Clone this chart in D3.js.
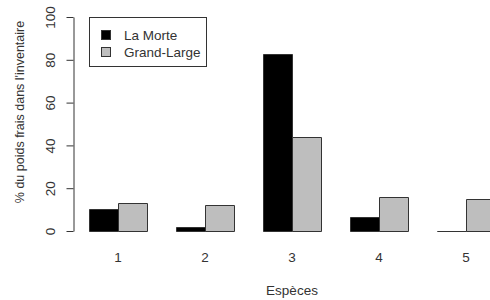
<!DOCTYPE html>
<html>
<head>
<meta charset="utf-8">
<script src="https://cdn.jsdelivr.net/npm/d3@7"></script>
<style>
  body { margin: 0; background: #fff; }
  svg { display: block; }
  text { font-family: "Liberation Sans", Arial, sans-serif; fill: #333; }
</style>
</head>
<body>
<svg width="490" height="300"></svg>
<script>
var especes = ["1", "2", "3", "4", "5"];
var series = ["La Morte", "Grand-Large"];
var laMorte = [10.3, 1.7, 82.7, 6.4, 0];
var grandLarge = [13.2, 12.3, 44.1, 15.9, 14.8];
var yTicks = [0, 20, 40, 60, 80, 100];
var colors = ["#000000", "#bebebe"];

var svg = d3.select("svg");

// R style barplot: bars of width 1, one empty unit between groups
var x = d3.scaleLinear().domain([0, 15]).range([60, 495]);
var y = d3.scaleLinear().domain([0, 100]).range([231, 17]);

var values = [laMorte, grandLarge];

var bars = [];
especes.forEach(function(e, g) {
    values.forEach(function(v, s) {
        bars.push({ g: g, s: s, value: v[g] });
    });
});

// drawn as paths so that a zero bar still shows its outline
svg.append("g")
    .selectAll("path")
    .data(bars)
    .enter()
    .append("path")
        .attr("d", function(d) {
            var x0 = Math.round(x(1 + d.g * 3 + d.s)) + 0.5;
            var x1 = Math.round(x(2 + d.g * 3 + d.s)) + 0.5;
            var y0 = Math.round(y(0)) + 0.5;
            var y1 = Math.round(y(d.value)) + 0.5;
            return "M" + x0 + "," + y0 + "V" + y1 + "H" + x1 + "V" + y0 + "Z";
        })
        .attr("fill", function(d) { return colors[d.s]; })
        .attr("stroke", "#333")
        .attr("stroke-width", 1);

// group labels (no axis line)
svg.append("g")
    .selectAll("text")
    .data(especes)
    .enter()
    .append("text")
        .attr("x", function(d, i) { return x(2 + i * 3); })
        .attr("y", 262)
        .attr("text-anchor", "middle")
        .style("font-size", "13.5px")
        .text(function(d) { return d; });

// y axis
var yAxis = svg.append("g")
    .attr("transform", "translate(73.5,0)")
    .call(d3.axisLeft(y).tickValues(yTicks).tickSize(7).tickPadding(0).tickSizeOuter(0));

yAxis.select(".domain").attr("stroke", "#333");
yAxis.selectAll(".tick line").attr("stroke", "#333");
yAxis.selectAll(".tick text")
    .attr("x", null).attr("dy", null)
    .attr("transform", "translate(-23,0) rotate(-90)")
    .attr("text-anchor", "middle")
    .attr("dominant-baseline", "central")
    .style("font-size", "13.5px")
    .style("font-family", "Liberation Sans, Arial, sans-serif")
    .attr("fill", "#333");

svg.append("text")
    .attr("transform", "translate(20,112) rotate(-90)")
    .attr("text-anchor", "middle")
    .attr("dominant-baseline", "central")
    .style("font-size", "12.5px")
    .text("% du poids frais dans l'inventaire");

svg.append("text")
    .attr("x", 292)
    .attr("y", 295)
    .attr("text-anchor", "middle")
    .style("font-size", "13.5px")
    .text("Espèces");

// legend
var legend = svg.append("g");
legend.append("rect")
    .attr("x", 89.5).attr("y", 17.5)
    .attr("width", 117).attr("height", 49)
    .attr("fill", "#fff").attr("stroke", "#333");

var items = legend.selectAll("g.item")
    .data(series)
    .enter()
    .append("g")
        .attr("class", "item")
        .attr("transform", function(d, i) { return "translate(0," + (35 + i * 17) + ")"; });

items.append("rect")
    .attr("x", 101.5).attr("y", -4.5)
    .attr("width", 9).attr("height", 9)
    .attr("fill", function(d, i) { return colors[i]; })
    .attr("stroke", "#333");

items.append("text")
    .attr("x", 124)
    .attr("dominant-baseline", "central")
    .style("font-size", "13.5px")
    .text(function(d) { return d; });
</script>
</body>
</html>
